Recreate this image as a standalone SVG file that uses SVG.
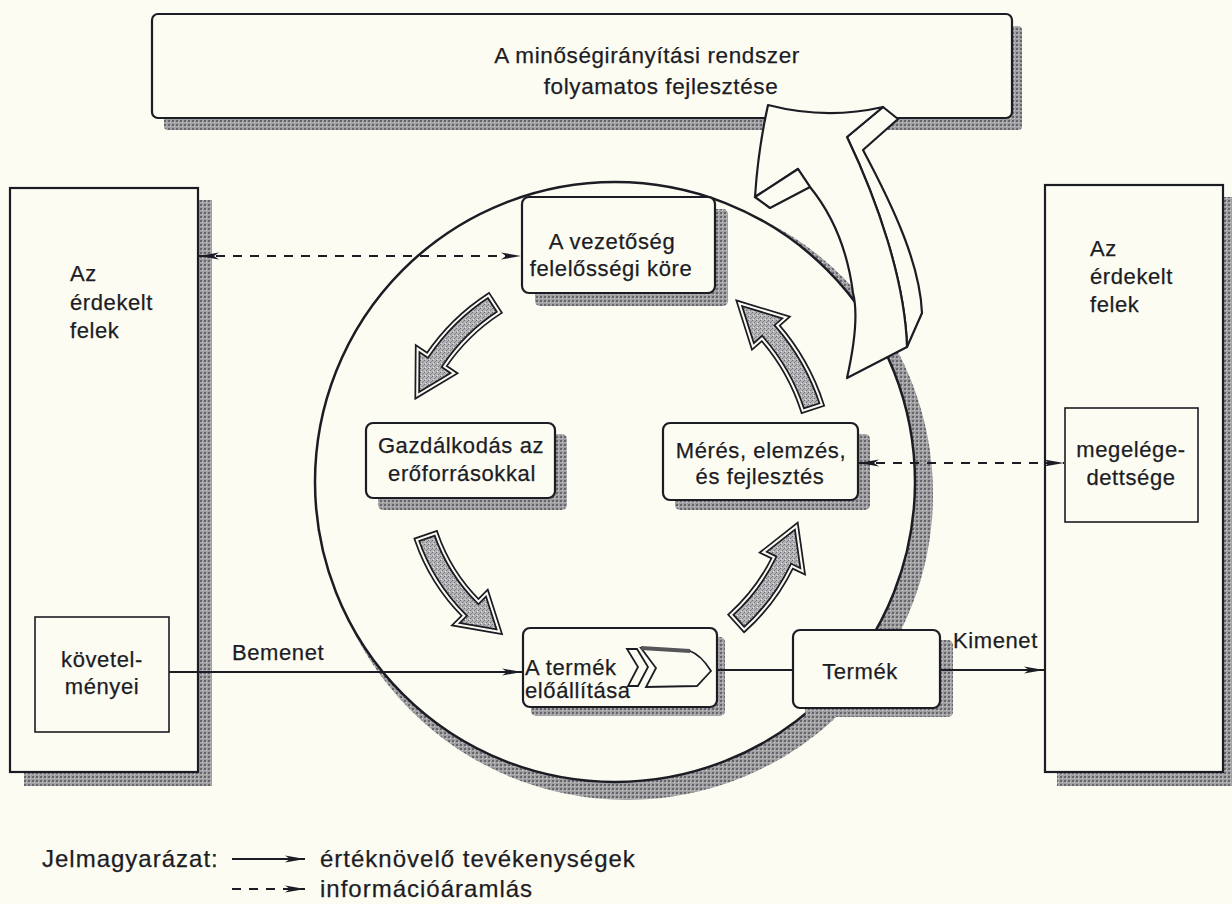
<svg xmlns="http://www.w3.org/2000/svg" width="1232" height="904" viewBox="0 0 1232 904">
<defs>
<pattern id="hatch" width="4" height="4" patternUnits="userSpaceOnUse">
<rect width="4" height="4" fill="#a0a0a2"/><rect width="2" height="2" fill="#66666c"/><rect x="2" y="2" width="1" height="1" fill="#d2d2d2"/>
</pattern>
<pattern id="grain" width="4" height="4" patternUnits="userSpaceOnUse">
<rect width="4" height="4" fill="#b4b4b6"/><rect width="1" height="1" fill="#6c6c72"/><rect x="2" y="2" width="1" height="1" fill="#76767c"/><rect x="3" y="1" width="1" height="1" fill="#8a8a90"/><rect x="1" y="3" width="1" height="1" fill="#e0e0e0"/>
</pattern>
<marker id="ah" viewBox="0 0 20 10" refX="20" refY="5" markerWidth="20" markerHeight="10" markerUnits="userSpaceOnUse" orient="auto-start-reverse">
<path d="M0,1.5 L20,5 L0,8.5 L5,5 Z" fill="#1c1c24"/>
</marker>
<style>
.t{font-family:"Liberation Sans",Arial,sans-serif;font-size:22px;fill:#1c1c24;letter-spacing:0.6px;stroke:#1c1c24;stroke-width:0.25px}
.m{text-anchor:middle}
.lg{font-size:24px;letter-spacing:1px}
.box{fill:#fdfcf3;stroke:#1c1c24;stroke-width:2.2}
.thin{fill:#fdfcf3;stroke:#1c1c24;stroke-width:1.6}
.sh{fill:url(#hatch)}
.ln{fill:none;stroke:#1c1c24;stroke-width:2}
.dash{stroke-dasharray:9 8}
.ga{fill:url(#grain);stroke:#1c1c24;stroke-width:5.5;stroke-linejoin:miter}
.gi{fill:none;stroke:#fdfcf3;stroke-width:2;stroke-linejoin:miter}
.wa{fill:#fdfcf3;stroke:#1c1c24;stroke-width:2.2;stroke-linejoin:round}
</style>
</defs>
<rect width="1232" height="904" fill="#fdfcf3"/>

<g id="improvement">
<rect class="sh" x="164" y="26" width="858" height="104" rx="4"/>
<rect class="box" x="152" y="14" width="860" height="104" rx="6"/>
<text class="t m" x="647" y="63" style="font-size:22.5px">A minőségirányítási rendszer</text>
<text class="t m" x="661" y="94" style="font-size:22.5px">folyamatos fejlesztése</text>
</g>

<g id="parties-left">
<rect class="sh" x="24" y="200" width="188" height="586"/>
<rect class="box" x="10" y="188" width="188" height="584"/>
<text class="t" x="70" y="281">Az</text>
<text class="t" x="70" y="310">érdekelt</text>
<text class="t" x="70" y="338">felek</text>
</g>
<g id="requirements">
<rect class="thin" x="35" y="617" width="134" height="115"/>
<text class="t m" x="102" y="667">követel-</text>
<text class="t m" x="102" y="694">ményei</text>
</g>

<g id="parties-right">
<rect class="sh" x="1057" y="197" width="178" height="589"/>
<rect class="box" x="1045" y="185" width="178" height="587"/>
<text class="t" x="1090" y="256">Az</text>
<text class="t" x="1090" y="284">érdekelt</text>
<text class="t" x="1090" y="312">felek</text>
</g>
<g id="satisfaction">
<rect class="thin" x="1065" y="408" width="133" height="114"/>
<text class="t m" x="1131" y="457">megelége-</text>
<text class="t m" x="1131" y="485">dettsége</text>
</g>

<g id="cycle">
<circle cx="627" cy="494" r="306" fill="url(#hatch)"/>
<circle cx="615" cy="482" r="300" fill="#fdfcf3" stroke="#1c1c24" stroke-width="2.5"/>
</g>

<g id="improvement-arrow">
<path class="wa" d="M863,150 L898,119 L883,107 L847,137 C877,200 905,280 907,347 L922,313 C920,265 895,210 863,150 Z"/>
<path class="wa" d="M768,105 Q826,120 883,107 L847,137 C877,200 905,280 907,347 L847,378 Q860,320 853,293 Q845,230 810,187 L798,169 L755,197 Q758,150 768,105 Z"/>
<path class="wa" d="M755,197 L798,169 L810,187 L770,208 Z"/>
</g>

<g id="management">
<rect class="sh" x="535" y="209" width="193" height="97" rx="5"/>
<rect class="box" x="522" y="197" width="193" height="96" rx="7"/>
<text class="t m" x="612" y="249">A vezetőség</text>
<text class="t m" x="611" y="276">felelősségi köre</text>
</g>

<g id="resources">
<rect class="sh" x="378" y="434" width="189" height="76" rx="5"/>
<rect class="box" x="366" y="423" width="189" height="75" rx="7"/>
<text class="t m" x="461" y="453">Gazdálkodás az</text>
<text class="t m" x="462" y="481">erőforrásokkal</text>
</g>

<g id="measurement">
<rect class="sh" x="675" y="434" width="195" height="76" rx="5"/>
<rect class="box" x="663" y="423" width="195" height="77" rx="7"/>
<text class="t m" x="761" y="458">Mérés, elemzés,</text>
<text class="t m" x="760" y="484">és fejlesztés</text>
</g>

<g id="realization">
<rect class="sh" x="531" y="637" width="194" height="79" rx="5"/>
<rect class="box" x="523" y="628" width="194" height="79" rx="7"/>
<text class="t" x="525" y="675">A termék</text>
<text class="t" x="525" y="698">előállítása</text>
<path d="M641,648 L690,651 Q701,655 711,671 L697,686 L646,687 L656,668 Z" fill="#fdfcf3" stroke="#1c1c24" stroke-width="1.8"/>
<path d="M641,648 L690,651" stroke="#55555a" stroke-width="4" fill="none"/>
<path d="M627,649 L637,649 L648,667 L638,686 L628,686 L638,667 Z" fill="#fdfcf3" stroke="#1c1c24" stroke-width="1.8"/>
</g>

<g id="product">
<rect class="sh" x="805" y="640" width="148" height="77" rx="5"/>
<rect class="box" x="793" y="630" width="147" height="78" rx="7"/>
<text class="t m" x="860" y="679">Termék</text>
</g>

<g id="cycle-arrows">
<path class="ga" d="M488.5,295.5 A214,214 0 0 0 427.6,355.3 L417.6,348.6 L417.2,395.3 L454.1,373.2 L444.2,366.5 A194,194 0 0 1 499.3,312.3 Z"/>
<path class="gi" d="M488.5,295.5 A214,214 0 0 0 427.6,355.3 L417.6,348.6 L417.2,395.3 L454.1,373.2 L444.2,366.5 A194,194 0 0 1 499.3,312.3 Z"/>
<path class="ga" d="M821.8,404.5 A228,228 0 0 0 777.1,325.4 L786.1,317.5 L739.2,303.2 L752.9,346.4 L762,338.5 A208,208 0 0 1 802.8,410.7 Z"/>
<path class="gi" d="M821.8,404.5 A228,228 0 0 0 777.1,325.4 L786.1,317.5 L739.2,303.2 L752.9,346.4 L762,338.5 A208,208 0 0 1 802.8,410.7 Z"/>
<path class="ga" d="M416.8,539.8 A199,199 0 0 0 464.3,615.7 L455.8,624.2 L499.3,631.7 L486.9,593.1 L478.4,601.6 A179,179 0 0 1 435.8,533.3 Z"/>
<path class="gi" d="M416.8,539.8 A199,199 0 0 0 464.3,615.7 L455.8,624.2 L499.3,631.7 L486.9,593.1 L478.4,601.6 A179,179 0 0 1 435.8,533.3 Z"/>
<path class="ga" d="M744.2,629.6 A208,208 0 0 0 791.9,566.2 L802.7,571.4 L796.3,526.2 L763.2,552.2 L774,557.4 A188,188 0 0 1 730.8,614.7 Z"/>
<path class="gi" d="M744.2,629.6 A208,208 0 0 0 791.9,566.2 L802.7,571.4 L796.3,526.2 L763.2,552.2 L774,557.4 A188,188 0 0 1 730.8,614.7 Z"/>
</g>

<g id="connectors">
<line class="ln dash" x1="199" y1="256" x2="521" y2="256" marker-start="url(#ah)" marker-end="url(#ah)"/>
<line class="ln dash" x1="859" y1="463" x2="1064" y2="463" marker-start="url(#ah)" marker-end="url(#ah)"/>
<line class="ln" x1="169" y1="672" x2="522" y2="672" marker-end="url(#ah)"/>
<line class="ln" x1="717" y1="670" x2="793" y2="670"/>
<line class="ln" x1="940" y1="670" x2="1044" y2="670" marker-end="url(#ah)"/>
<text class="t" x="232" y="660">Bemenet</text>
<text class="t" x="953" y="648">Kimenet</text>
</g>

<g id="legend">
<text class="t lg" x="42" y="867">Jelmagyarázat:</text>
<line class="ln" x1="232" y1="859" x2="305" y2="859" stroke-width="1.5" marker-end="url(#ah)"/>
<text class="t lg" x="320" y="867">értéknövelő tevékenységek</text>
<line class="ln dash" x1="232" y1="889" x2="305" y2="889" stroke-width="1.5" marker-end="url(#ah)"/>
<text class="t lg" x="320" y="897">információáramlás</text>
</g>
</svg>
